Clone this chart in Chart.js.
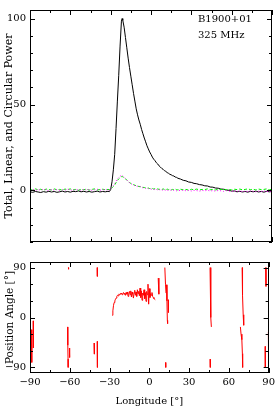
<!DOCTYPE html>
<html>
<head>
<meta charset="utf-8">
<script src="https://cdn.jsdelivr.net/npm/chart.js"></script>
<style>
  body { margin: 0; background: #fff; }
  #wrap { position: relative; width: 278px; height: 407px; }
  canvas { position: absolute; left: 0; }
  .lbl { position: absolute; font: 10px 'DejaVu Serif'; color: #000; white-space: nowrap; }
</style>
</head>
<body>
<div id="wrap">
  <canvas id="prof" width="278" height="252" style="top:0"></canvas>
  <canvas id="pa" width="278" height="155" style="top:252px"></canvas>
  <div class="lbl" style="left:198px; top:13px;">B1900+01</div>
  <div class="lbl" style="left:198px; top:29px;">325 MHz</div>
</div>
<script>
// pulse longitude (deg)
const lon = [
  -90,-88,-86,-84,-82,-80,-78,-76,-74,-72,
  -70,-68,-66,-64,-62,-60,-58,-56,-54,-52,
  -50,-48,-46,-44,-42,-40,-38,-36,-34,-32,
  -31,-30,-29,-28,-27,-26,-25,-24,-23,-22,
  -21.5,-21,-20,-19,-18,-17,-16,-15,-14,-13,
  -12,-11,-10,-9,-8,-7,-6,-5,-4,-3,
  -2,-1,0,1,2,3,4,5,6,7,
  8,9,10,11,12,13,14,15,16,17,
  18,19,20,22,24,26,28,30,32,34,
  36,38,40,42,44,46,48,50,52,54,
  56,58,60,62,64,66,68,70,72,74,
  76,78,80,82,84,86,88,90
];
const total = [
  -0.8,-1.1,-0.6,-0.9,-1.2,-0.7,-1.0,-0.5,-0.9,-0.6,
  -1.1,-0.8,-0.4,-0.9,-0.6,-1.0,-0.5,-0.7,-0.3,-0.8,
  -0.5,-0.9,-0.6,-1.0,-0.7,-0.4,-0.9,-0.6,-0.8,-0.5,
  -0.7,0.5,5,12,21,36,52,67,84,98.5,
  100,99,95,89,83,77,71.5,66.5,61.5,56.5,
  52,47.5,44,41,38.5,35.5,33,30.5,28.3,26,
  24.2,22.4,21,19.4,18.2,17.3,16.1,15.4,14.3,13.6,
  12.8,12.3,11.5,11.1,10.4,10.0,9.4,9.1,8.6,8.4,
  7.8,7.6,7.1,6.6,5.9,5.6,4.9,4.7,4.1,3.9,
  3.4,3.2,2.7,2.6,2.0,1.9,1.4,1.3,0.8,0.7,
  0.2,0.1,-0.4,-0.3,-0.8,-0.5,-0.9,-0.6,-1.0,-0.5,
  -0.8,-0.4,-0.9,-0.6,-1.0,-0.5,-0.8,-0.6
];
const linear = [
  0.6,0.2,0.9,0.4,0.7,0.1,0.8,0.5,0.3,0.9,
  0.4,0.6,0.2,0.8,0.5,0.9,0.3,0.6,0.1,0.7,
  0.4,0.8,0.2,0.6,0.9,0.3,0.5,0.7,0.4,0.6,
  0.5,0.8,1.5,2.3,3.2,4.5,5.8,6.7,7.4,8.0,
  8.2,7.9,7.4,6.8,6.0,5.2,4.6,4.1,3.7,3.4,
  3.0,2.8,2.6,2.3,2.2,2.0,1.8,1.7,1.5,1.3,
  1.4,1.1,1.0,1.2,0.8,1.0,0.7,0.9,0.6,0.8,
  0.5,0.9,0.6,0.4,0.8,0.5,0.7,0.3,0.6,0.4,
  0.8,0.5,0.3,0.7,0.4,0.6,0.2,0.7,0.4,0.8,
  0.3,0.6,0.5,0.9,0.4,0.6,0.3,0.7,0.5,0.8,
  0.4,0.6,0.3,0.7,0.5,0.8,0.4,0.6,0.9,0.5,
  0.7,0.3,0.8,0.5,0.6,0.9,0.4,0.7
];
const circular = [
  0.3,0.6,0.1,0.5,0.2,0.7,0.3,0.0,0.6,0.2,
  0.5,0.1,0.4,0.2,0.7,0.3,0.1,0.5,0.4,0.0,
  0.6,0.3,0.5,0.1,0.4,0.7,0.2,0.3,0.6,0.1,
  0.3,0.9,1.8,2.9,4.0,5.3,6.6,7.6,8.3,8.7,
  8.8,8.4,7.8,7.0,6.1,5.3,4.5,4.0,3.5,3.1,
  2.8,2.5,2.4,2.1,2.3,1.9,1.5,1.6,1.2,1.0,
  1.1,0.7,0.9,0.5,0.7,0.4,0.6,0.2,0.5,0.3,
  0.1,0.4,0.0,0.3,-0.1,0.2,0.0,0.3,-0.1,0.2,
  0.0,-0.2,0.1,-0.1,0.2,-0.2,0.0,-0.3,0.1,-0.1,
  -0.4,0.0,-0.2,0.1,-0.3,-0.1,-0.4,0.0,-0.2,-0.5,
  -0.1,-0.3,-0.6,-0.2,-0.5,-0.3,-0.7,-0.4,-0.6,-0.2,
  -0.5,-0.8,-0.4,-0.6,-0.3,-0.7,-0.5,-0.4
];

// position angle (deg), null = gap between pieces
const paLon = [
  -89.3,-89.2,null,
  -88.8,-88.7,-88.6,null,
  -87.6,-87.5,-87.4,null,
  -61.6,-61.5,-61.3,-61.2,null,
  -60.3,-60.1,null,
  -61.0,-60.9,null,
  -41.7,-41.5,-41.4,null,
  -39.3,-39.2,-39.1,null,
  -39.3,-39.2,null,
  -28,-27.5,-27,-26.5,-26,-25.5,-25,-24.5,-24,-23.5,
  -23,-22.5,-22,-21.5,-21,-20.5,-20,-19.5,-19,-18.5,
  -18,-17.5,-17,-16.5,-16,-15.5,-15,-14.5,-14,-13.5,
  -13,-12.5,-12,-11.5,-11,-10.5,-10,-9.5,-9,-8.5,
  -8,-7.5,-7,-6.5,-6,-5.5,-5,-4.5,-4,-3.5,
  -3,-2.5,-2,-1.5,-1,-0.5,0,0.5,1,1.5,
  2,2.5,3,3.5,4,4.5,null,
  6.7,7.2,null,
  11.7,12.2,12.6,null,
  13.0,13.3,13.6,13.8,null,
  14.2,14.4,null,
  12.3,12.4,null,
  45.8,46.2,46.5,46.8,null,
  45.9,46.0,null,
  70.0,70.3,70.8,71.2,null,
  68.7,69.2,69.8,70.2,70.4,null,
  87.8,88.0,null,
  87.4,87.5,null,
  89.8,89.9
];
const paAng = [
  -30,-55,null,
  -22,-50,-81,null,
  -6,-30,-55,null,
  -17,-50,-75,-90,null,
  -55,-72,null,
  90,87,null,
  -46,-56,-66,null,
  -43,-70,-90,null,
  90,74,null,
  4,12,22,27,30,33,35,38,40,39,
  42,41,43,42,44,41,43,45,42,44,
  40,45,42,46,38,44,47,41,48,37,
  46,42,35,44,49,40,46,38,50,43,
  47,39,53,36,48,31,44,40,50,34,
  45,29,47,41,60,24,52,36,43,40,
  45,38,36,34,33,32,null,
  71,42,null,
  90,60,44,null,
  59,30,-5,-11,null,
  32,9,null,
  -81,-90,null,
  90,40,0,-17,null,
  -75,-90,null,
  90,40,5,-14,null,
  -17,-30,-40,-65,-90,null,
  90,56,null,
  -52,-90,null,
  -26,-58
];

// tick positions
const profTicks = [-30,-20,-10,0,10,20,30,40,50,60,70,80,90,100];
const paTicks = [-90,0,90];
const lonTicks = [-90,-60,-30,0,30,60,90];

Chart.defaults.font.family = "'DejaVu Serif', serif";
Chart.defaults.font.size = 10;
Chart.defaults.color = '#000';

function pts(xs, ys) {
  let last = xs[0];
  return xs.map((x, i) => {
    if (x === null || ys[i] === null) return { x: last, y: null };
    last = x;
    return { x: x, y: ys[i] };
  });
}
const minus = v => (v < 0 ? '\u2212' + Math.abs(v) : '' + v);
const setTicks = list => s => { s.ticks = list.map(v => ({ value: v })); };

// box with inward tick marks on all four sides
const frame = {
  id: 'frame',
  afterDraw(chart, args, o) {
    const { ctx, chartArea: a } = chart;
    const xs = chart.scales.x, ys = chart.scales.y;
    ctx.save();
    ctx.strokeStyle = '#000';
    ctx.lineWidth = 1;
    ctx.strokeRect(Math.round(a.left) + 0.5, Math.round(a.top) + 0.5,
      Math.round(a.right - a.left) - 1, Math.round(a.bottom - a.top) - 1);
    ctx.beginPath();
    for (let v = -90; v <= 90; v += o.xMinor) {
      const px = Math.round(xs.getPixelForValue(v)) + 0.5;
      const len = v % o.xMajor === 0 ? 5 : 3;
      ctx.moveTo(px, a.bottom); ctx.lineTo(px, a.bottom - len);
      ctx.moveTo(px, a.top); ctx.lineTo(px, a.top + len);
    }
    for (let v = Math.ceil(ys.min / o.yMinor) * o.yMinor; v <= ys.max; v += o.yMinor) {
      const py = Math.round(ys.getPixelForValue(v)) + 0.5;
      const len = v % o.yMajor === 0 ? 5 : 3;
      ctx.moveTo(a.left, py); ctx.lineTo(a.left + len, py);
      ctx.moveTo(a.right, py); ctx.lineTo(a.right - len, py);
    }
    ctx.stroke();
    ctx.restore();
  }
};

const line = (data, color, dash) => ({
  data: data, borderColor: color, borderWidth: 1, borderDash: dash || [],
  pointRadius: 0, tension: 0, fill: false
});

new Chart(document.getElementById('prof'), {
  type: 'line',
  data: {
    datasets: [
      line(pts(lon, circular), '#ff00ff', [1, 2]),
      line(pts(lon, linear), '#00ee00', [3, 2]),
      line(pts(lon, total), '#000000')
    ]
  },
  options: {
    responsive: false, animation: false, devicePixelRatio: 1,
    layout: { padding: { top: 1, right: 6, bottom: 4, left: 0 } },
    plugins: { legend: { display: false }, tooltip: { enabled: false },
      frame: { xMinor: 15, xMajor: 30, yMinor: 10, yMajor: 50 } },
    scales: {
      x: { type: 'linear', min: -90, max: 90, display: false },
      y: {
        min: -30, max: 105,
        afterBuildTicks: setTicks(profTicks),
        afterFit: s => { s.width = 30; },
        grid: { display: false, drawTicks: false },
        border: { display: false },
        ticks: { padding: 4, autoSkip: false,
          callback: v => (v % 50 === 0 ? minus(v) : '') },
        title: { display: true, text: 'Total, Linear, and Circular Power',
          font: { size: 11 }, padding: { top: 3, bottom: 0 } }
      }
    }
  },
  plugins: [frame]
});

new Chart(document.getElementById('pa'), {
  type: 'line',
  data: { datasets: [line(pts(paLon, paAng), '#ff0000')] },
  options: {
    responsive: false, animation: false, devicePixelRatio: 1,
    layout: { padding: { top: 6, right: 6, bottom: 0, left: 0 } },
    plugins: { legend: { display: false }, tooltip: { enabled: false },
      frame: { xMinor: 15, xMajor: 30, yMinor: 30, yMajor: 90 } },
    scales: {
      x: {
        type: 'linear', min: -90, max: 90,
        afterBuildTicks: setTicks(lonTicks),
        afterFit: s => { s.height = 34; },
        grid: { display: false, drawTicks: false },
        border: { display: false },
        ticks: { padding: 3, autoSkip: false, maxRotation: 0,
          callback: v => minus(v) },
        title: { display: true, text: 'Longitude [\u00b0]', padding: { top: 0, bottom: 0 } }
      },
      y: {
        min: -100, max: 100,
        afterBuildTicks: setTicks(paTicks),
        afterFit: s => { s.width = 30; },
        grid: { display: false, drawTicks: false },
        border: { display: false },
        ticks: { padding: 4, autoSkip: false, callback: v => minus(v) },
        title: { display: true, text: 'Position Angle [\u00b0]',
          font: { size: 10.5 }, padding: { top: 4, bottom: 0 } }
      }
    }
  },
  plugins: [frame]
});
</script>
</body>
</html>
